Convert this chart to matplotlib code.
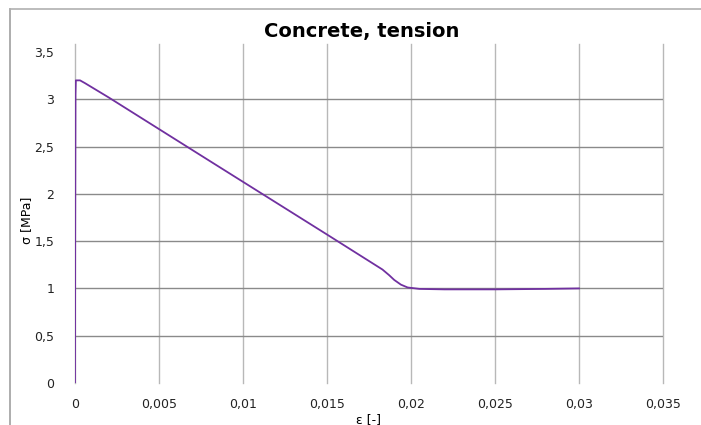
import matplotlib.pyplot as plt
from matplotlib.lines import Line2D

# data
strain = [0, 0.00001, 0.00003, 0.00005, 0.0003, 0.0006, 0.002, 0.008, 0.015,
          0.0183, 0.0187, 0.0190, 0.0194, 0.0198, 0.0205, 0.022, 0.025,
          0.028, 0.030]
stress = [0, 1.5, 3.05, 3.2, 3.2, 3.17, 3.02, 2.35, 1.57,
          1.2, 1.14, 1.09, 1.04, 1.01, 0.995, 0.99, 0.99,
          0.995, 1.0]

x_ticks = [0, 0.005, 0.01, 0.015, 0.02, 0.025, 0.03, 0.035]
x_labels = ['0', '0,005', '0,01', '0,015', '0,02', '0,025', '0,03', '0,035']
y_ticks = [0, 0.5, 1, 1.5, 2, 2.5, 3, 3.5]
y_labels = ['0', '0,5', '1', '1,5', '2', '2,5', '3', '3,5']

fig = plt.figure(figsize=(7.01, 4.25), dpi=100)
ax = fig.add_axes([75 / 701, 1 - 383 / 425, 588 / 701, 331 / 425])

# gridlines (drawn by hand, Excel style)
for xv in x_ticks:
    ax.axvline(xv, ymin=0, ymax=1.025, color='#b8b8b8', lw=1, clip_on=False, zorder=1)
for yv in y_ticks[1:-1]:
    ax.axhline(yv, color='#8a8a8a', lw=1, zorder=1)

ax.plot(strain, stress, color='#7030a0', lw=1.3, zorder=3)

ax.set_xlim(0, 0.035)
ax.set_ylim(0, 3.5)
ax.set_xticks(x_ticks)
ax.set_xticklabels(x_labels)
ax.set_yticks(y_ticks)
ax.set_yticklabels(y_labels)
ax.tick_params(length=0, labelsize=9, colors='#222222')
ax.tick_params(axis='x', pad=11)
ax.tick_params(axis='y', pad=15)
for s in ax.spines.values():
    s.set_visible(False)

ax.set_xlabel('ε [-]', fontsize=9)
ax.set_ylabel('σ [MPa]', fontsize=9)
ax.xaxis.set_label_coords(0.50, -0.09)
ax.yaxis.set_label_coords(-0.072, 0.49)

fig.text(362 / 701, 1 - 32 / 425, 'Concrete, tension', ha='center', va='center',
         fontsize=14, fontweight='bold')

# outer chart frame
fig.add_artist(Line2D([10 / 701, 10 / 701], [0, 1 - 9 / 425], color='#a0a0a0', lw=1.2))
fig.add_artist(Line2D([10 / 701, 1], [1 - 9 / 425, 1 - 9 / 425], color='#b0b0b0', lw=1.2))

plt.savefig('out.png', dpi=100)
